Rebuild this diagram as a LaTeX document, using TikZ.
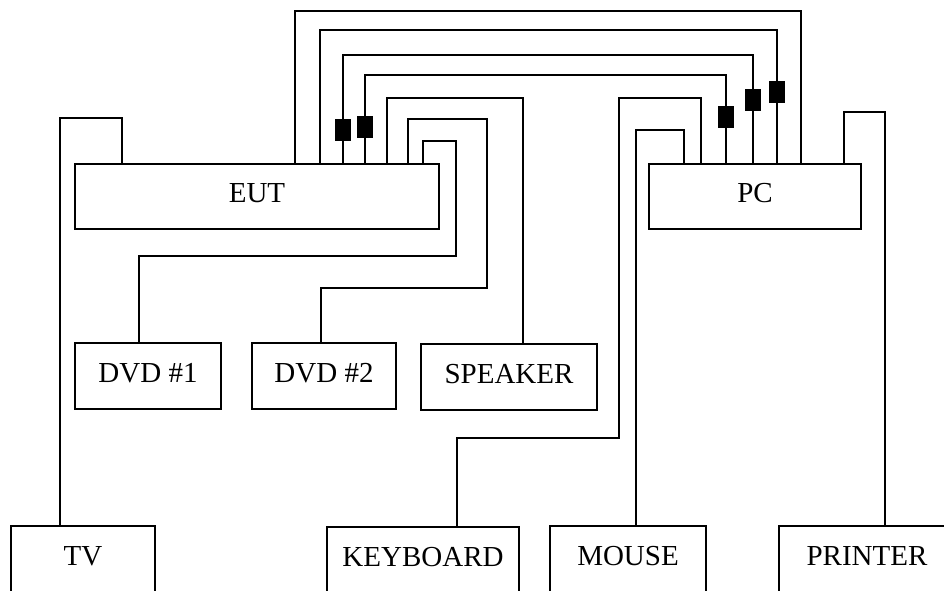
\documentclass[tikz,border=0pt]{standalone}
\usepackage{fontspec}
\setmainfont{Liberation Serif}

\begin{document}
\begin{tikzpicture}[x=1pt, y=-1pt, line width=2pt,
  unit/.style={draw, line width=2pt, inner sep=0pt, outer sep=0pt, minimum height=65pt,
    text height=19pt, text depth=6.5pt, font=\fontsize{29}{33}\selectfont},
  plug/.style={fill=black, inner sep=0pt, minimum width=16pt, minimum height=22pt}]
  \useasboundingbox (0,0) rectangle (944,590);

  \node[unit, minimum width=364pt] (eut) at (257,196) {EUT};
  \node[unit, minimum width=212pt] (pc) at (755,196) {PC};
  \node[unit, minimum width=146pt, minimum height=66pt] (dvd1) at (148,376) {DVD \#1};
  \node[unit, minimum width=144pt, minimum height=66pt] (dvd2) at (324,376) {DVD \#2};
  \node[unit, minimum width=176pt, minimum height=66pt] (speaker) at (509,377) {SPEAKER};
  \node[unit, minimum width=144pt, minimum height=66pt] (tv) at (83,559) {TV};
  \node[unit, minimum width=192pt, minimum height=66pt] (kbd) at (423,560) {KEYBOARD};
  \node[unit, minimum width=156pt, minimum height=66pt] (mouse) at (628,559) {MOUSE};
  \node[unit, minimum width=176pt, minimum height=66pt] (printer) at (867,559) {PRINTER};

  % EUT -> TV
  \draw ([xshift=47]eut.north west) |- (60,118) -- ([xshift=-23]tv.north);
  % EUT -> PC
  \draw ([xshift=220]eut.north west) |- (801,11) -- ([xshift=152]pc.north west);
  \draw ([xshift=245]eut.north west) |- (777,30) -- ([xshift=128]pc.north west);
  \draw ([xshift=268]eut.north west) |- (753,55) -- ([xshift=104]pc.north west);
  \draw ([xshift=290]eut.north west) |- (726,75) -- ([xshift=77]pc.north west);
  % EUT -> speaker, DVDs
  \draw ([xshift=312]eut.north west) |- (523,98) -- ([xshift=102]speaker.north west);
  \draw ([xshift=333]eut.north west) |- (487,119) -- (487,288) -| ([xshift=69]dvd2.north west);
  \draw ([xshift=348]eut.north west) |- (456,141) -- (456,256) -| ([xshift=64]dvd1.north west);
  % PC -> keyboard, mouse, printer
  \draw ([xshift=52]pc.north west) |- (619,98) -- (619,438) -| ([xshift=130]kbd.north west);
  \draw ([xshift=35]pc.north west) |- (636,130) -- ([xshift=86]mouse.north west);
  \draw ([xshift=195]pc.north west) |- (885,112) -- ([xshift=106]printer.north west);

  % plugs
  \node[plug] (plugE3) at (343,130) {};
  \node[plug] (plugE4) at (365,127) {};
  \node[plug] (plugP4) at (726,117) {};
  \node[plug] (plugP3) at (753,100) {};
  \node[plug] (plugP2) at (777,92) {};
\end{tikzpicture}
\end{document}
